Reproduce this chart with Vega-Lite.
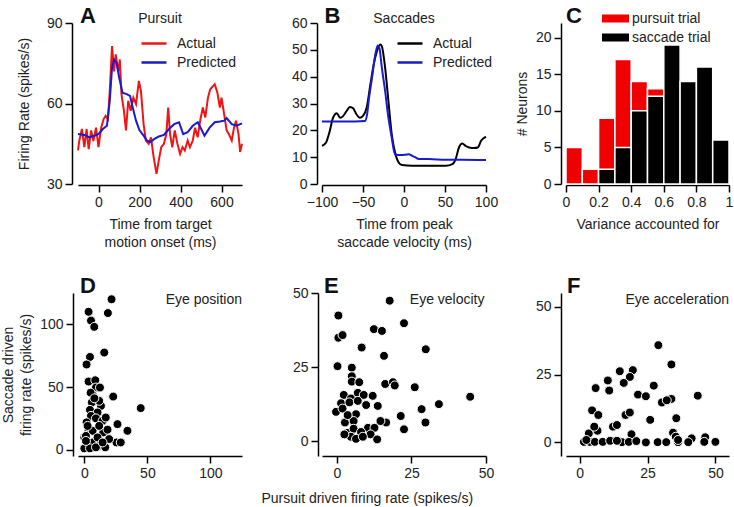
{
  "$schema": "https://vega.github.io/schema/vega-lite/v6.json",
  "padding": {"left": 1, "top": 5, "right": 2, "bottom": 2},
  "background": "white",
  "datasets": {
    "pursuit": [
      {"t": -100, "rate": 42.5, "series": "Actual"}, {"t": -94, "rate": 46, "series": "Actual"}, {"t": -81, "rate": 50.5, "series": "Actual"}, {"t": -69, "rate": 43.7, "series": "Actual"}, {"t": -58, "rate": 50.5, "series": "Actual"}, {"t": -48, "rate": 43, "series": "Actual"}, {"t": -36, "rate": 50, "series": "Actual"}, {"t": -25, "rate": 46, "series": "Actual"}, {"t": -12, "rate": 51, "series": "Actual"}, {"t": 0, "rate": 43.7, "series": "Actual"}, {"t": 13, "rate": 51, "series": "Actual"}, {"t": 25, "rate": 54.2, "series": "Actual"}, {"t": 35, "rate": 55.4, "series": "Actual"}, {"t": 46, "rate": 54.2, "series": "Actual"}, {"t": 55, "rate": 64.7, "series": "Actual"}, {"t": 66, "rate": 81.4, "series": "Actual"}, {"t": 76, "rate": 72, "series": "Actual"}, {"t": 84, "rate": 78.3, "series": "Actual"}, {"t": 96, "rate": 72, "series": "Actual"}, {"t": 104, "rate": 76.4, "series": "Actual"}, {"t": 112, "rate": 63.5, "series": "Actual"}, {"t": 124, "rate": 57.3, "series": "Actual"}, {"t": 134, "rate": 50, "series": "Actual"}, {"t": 145, "rate": 61, "series": "Actual"}, {"t": 157, "rate": 57.3, "series": "Actual"}, {"t": 170, "rate": 62.2, "series": "Actual"}, {"t": 183, "rate": 59.8, "series": "Actual"}, {"t": 197, "rate": 68.4, "series": "Actual"}, {"t": 207, "rate": 64.7, "series": "Actual"}, {"t": 220, "rate": 52.3, "series": "Actual"}, {"t": 231, "rate": 46.2, "series": "Actual"}, {"t": 245, "rate": 45, "series": "Actual"}, {"t": 256, "rate": 47.4, "series": "Actual"}, {"t": 269, "rate": 40, "series": "Actual"}, {"t": 283, "rate": 33.8, "series": "Actual"}, {"t": 294, "rate": 38.8, "series": "Actual"}, {"t": 306, "rate": 43.7, "series": "Actual"}, {"t": 319, "rate": 45, "series": "Actual"}, {"t": 331, "rate": 48.6, "series": "Actual"}, {"t": 340, "rate": 58.5, "series": "Actual"}, {"t": 349, "rate": 48.6, "series": "Actual"}, {"t": 360, "rate": 43.7, "series": "Actual"}, {"t": 372, "rate": 50, "series": "Actual"}, {"t": 385, "rate": 45, "series": "Actual"}, {"t": 398, "rate": 41.2, "series": "Actual"}, {"t": 410, "rate": 43.7, "series": "Actual"}, {"t": 421, "rate": 42.5, "series": "Actual"}, {"t": 435, "rate": 46.2, "series": "Actual"}, {"t": 446, "rate": 43.7, "series": "Actual"}, {"t": 460, "rate": 46.2, "series": "Actual"}, {"t": 471, "rate": 51, "series": "Actual"}, {"t": 484, "rate": 47.4, "series": "Actual"}, {"t": 496, "rate": 53.6, "series": "Actual"}, {"t": 509, "rate": 58.5, "series": "Actual"}, {"t": 521, "rate": 54.8, "series": "Actual"}, {"t": 534, "rate": 62.2, "series": "Actual"}, {"t": 545, "rate": 65.3, "series": "Actual"}, {"t": 559, "rate": 66.5, "series": "Actual"}, {"t": 567, "rate": 67.2, "series": "Actual"}, {"t": 580, "rate": 64, "series": "Actual"}, {"t": 592, "rate": 58.5, "series": "Actual"}, {"t": 600, "rate": 62.2, "series": "Actual"}, {"t": 613, "rate": 56, "series": "Actual"}, {"t": 625, "rate": 50, "series": "Actual"}, {"t": 636, "rate": 48.6, "series": "Actual"}, {"t": 650, "rate": 46.2, "series": "Actual"}, {"t": 661, "rate": 51, "series": "Actual"}, {"t": 671, "rate": 53.6, "series": "Actual"}, {"t": 683, "rate": 48.6, "series": "Actual"}, {"t": 691, "rate": 42, "series": "Actual"}, {"t": 700, "rate": 45, "series": "Actual"},
      {"t": -100, "rate": 48.6, "series": "Predicted"}, {"t": -69, "rate": 48.3, "series": "Predicted"}, {"t": -45, "rate": 47.4, "series": "Predicted"}, {"t": -20, "rate": 48, "series": "Predicted"}, {"t": 0, "rate": 48.6, "series": "Predicted"}, {"t": 21, "rate": 50.5, "series": "Predicted"}, {"t": 41, "rate": 51.7, "series": "Predicted"}, {"t": 55, "rate": 61, "series": "Predicted"}, {"t": 66, "rate": 73.3, "series": "Predicted"}, {"t": 76, "rate": 76.4, "series": "Predicted"}, {"t": 88, "rate": 75.2, "series": "Predicted"}, {"t": 101, "rate": 69.6, "series": "Predicted"}, {"t": 117, "rate": 64, "series": "Predicted"}, {"t": 137, "rate": 63.5, "series": "Predicted"}, {"t": 154, "rate": 62.8, "series": "Predicted"}, {"t": 167, "rate": 58.5, "series": "Predicted"}, {"t": 183, "rate": 53.6, "series": "Predicted"}, {"t": 200, "rate": 50, "series": "Predicted"}, {"t": 220, "rate": 48, "series": "Predicted"}, {"t": 236, "rate": 46.2, "series": "Predicted"}, {"t": 253, "rate": 45.6, "series": "Predicted"}, {"t": 273, "rate": 46.8, "series": "Predicted"}, {"t": 294, "rate": 47.7, "series": "Predicted"}, {"t": 319, "rate": 48.3, "series": "Predicted"}, {"t": 344, "rate": 50.5, "series": "Predicted"}, {"t": 369, "rate": 52.3, "series": "Predicted"}, {"t": 393, "rate": 53, "series": "Predicted"}, {"t": 413, "rate": 48.6, "series": "Predicted"}, {"t": 435, "rate": 49.3, "series": "Predicted"}, {"t": 460, "rate": 51.7, "series": "Predicted"}, {"t": 484, "rate": 53, "series": "Predicted"}, {"t": 501, "rate": 50.5, "series": "Predicted"}, {"t": 517, "rate": 48, "series": "Predicted"}, {"t": 542, "rate": 51, "series": "Predicted"}, {"t": 567, "rate": 53, "series": "Predicted"}, {"t": 592, "rate": 53.3, "series": "Predicted"}, {"t": 613, "rate": 53.6, "series": "Predicted"}, {"t": 625, "rate": 54.6, "series": "Predicted"}, {"t": 650, "rate": 52.3, "series": "Predicted"}, {"t": 674, "rate": 51.7, "series": "Predicted"}, {"t": 700, "rate": 52.6, "series": "Predicted"}
    ],
    "saccade": [
      {"t": -100, "rate": 14.2, "series": "Actual"}, {"t": -95, "rate": 15.5, "series": "Actual"}, {"t": -91, "rate": 19.2, "series": "Actual"}, {"t": -86.5, "rate": 24.7, "series": "Actual"}, {"t": -82, "rate": 26.4, "series": "Actual"}, {"t": -78, "rate": 24.7, "series": "Actual"}, {"t": -74, "rate": 25.4, "series": "Actual"}, {"t": -70, "rate": 27.2, "series": "Actual"}, {"t": -66, "rate": 28.7, "series": "Actual"}, {"t": -62, "rate": 28.2, "series": "Actual"}, {"t": -58, "rate": 26, "series": "Actual"}, {"t": -54, "rate": 24.7, "series": "Actual"}, {"t": -50, "rate": 25.4, "series": "Actual"}, {"t": -45.5, "rate": 28.5, "series": "Actual"}, {"t": -41, "rate": 37.1, "series": "Actual"}, {"t": -37, "rate": 44.5, "series": "Actual"}, {"t": -33, "rate": 49.5, "series": "Actual"}, {"t": -29, "rate": 52, "series": "Actual"}, {"t": -27, "rate": 51.3, "series": "Actual"}, {"t": -23, "rate": 43.3, "series": "Actual"}, {"t": -19, "rate": 30.9, "series": "Actual"}, {"t": -15, "rate": 18.6, "series": "Actual"}, {"t": -11, "rate": 11.8, "series": "Actual"}, {"t": -6.5, "rate": 8, "series": "Actual"}, {"t": -2.5, "rate": 7.05, "series": "Actual"}, {"t": 10, "rate": 6.8, "series": "Actual"}, {"t": 30, "rate": 6.8, "series": "Actual"}, {"t": 51, "rate": 6.8, "series": "Actual"}, {"t": 59, "rate": 7.4, "series": "Actual"}, {"t": 63, "rate": 9.3, "series": "Actual"}, {"t": 67, "rate": 13.6, "series": "Actual"}, {"t": 71, "rate": 15.1, "series": "Actual"}, {"t": 75, "rate": 14.2, "series": "Actual"}, {"t": 79.5, "rate": 13.6, "series": "Actual"}, {"t": 85.7, "rate": 13.4, "series": "Actual"}, {"t": 90, "rate": 13.6, "series": "Actual"}, {"t": 94, "rate": 16.1, "series": "Actual"}, {"t": 100, "rate": 17.6, "series": "Actual"},
      {"t": -100, "rate": 23.3, "series": "Predicted"}, {"t": -72, "rate": 23.3, "series": "Predicted"}, {"t": -47.5, "rate": 23.5, "series": "Predicted"}, {"t": -45, "rate": 26, "series": "Predicted"}, {"t": -42.6, "rate": 32.2, "series": "Predicted"}, {"t": -39, "rate": 39.6, "series": "Predicted"}, {"t": -35, "rate": 48.2, "series": "Predicted"}, {"t": -32, "rate": 51.6, "series": "Predicted"}, {"t": -30, "rate": 50.7, "series": "Predicted"}, {"t": -27, "rate": 43.3, "series": "Predicted"}, {"t": -23, "rate": 34.6, "series": "Predicted"}, {"t": -19, "rate": 24.7, "series": "Predicted"}, {"t": -15, "rate": 17.3, "series": "Predicted"}, {"t": -11, "rate": 11.1, "series": "Predicted"}, {"t": -6.5, "rate": 10.8, "series": "Predicted"}, {"t": 1.6, "rate": 10.9, "series": "Predicted"}, {"t": 5.7, "rate": 11.1, "series": "Predicted"}, {"t": 10, "rate": 10.5, "series": "Predicted"}, {"t": 14, "rate": 9.9, "series": "Predicted"}, {"t": 18, "rate": 9.3, "series": "Predicted"}, {"t": 30, "rate": 9.3, "series": "Predicted"}, {"t": 51, "rate": 9.0, "series": "Predicted"}, {"t": 71, "rate": 9.0, "series": "Predicted"}, {"t": 100, "rate": 8.9, "series": "Predicted"}
    ],
    "hist": [
      {"lo": 0.0, "hi": 0.1, "count": 5, "trial": "pursuit trial"}, {"lo": 0.1, "hi": 0.2, "count": 2, "trial": "pursuit trial"}, {"lo": 0.2, "hi": 0.3, "count": 9, "trial": "pursuit trial"}, {"lo": 0.3, "hi": 0.4, "count": 17, "trial": "pursuit trial"}, {"lo": 0.4, "hi": 0.5, "count": 14, "trial": "pursuit trial"}, {"lo": 0.5, "hi": 0.6, "count": 13, "trial": "pursuit trial"},
      {"lo": 0.2, "hi": 0.3, "count": 2, "trial": "saccade trial"}, {"lo": 0.3, "hi": 0.4, "count": 5, "trial": "saccade trial"}, {"lo": 0.4, "hi": 0.5, "count": 10, "trial": "saccade trial"}, {"lo": 0.5, "hi": 0.6, "count": 12, "trial": "saccade trial"}, {"lo": 0.6, "hi": 0.7, "count": 19, "trial": "saccade trial"}, {"lo": 0.7, "hi": 0.8, "count": 14, "trial": "saccade trial"}, {"lo": 0.8, "hi": 0.9, "count": 16, "trial": "saccade trial"}, {"lo": 0.9, "hi": 1.0, "count": 6, "trial": "saccade trial"}
    ],
    "position": [
      {"p": 21.6, "s": 120}, {"p": 3.4, "s": 110}, {"p": 18.7, "s": 109}, {"p": 5.3, "s": 103}, {"p": 7.9, "s": 98}, {"p": 15.8, "s": 77.5}, {"p": 4.5, "s": 74}, {"p": 1.8, "s": 68}, {"p": 3.4, "s": 54.4}, {"p": 8.7, "s": 55.4}, {"p": 9.2, "s": 49.6}, {"p": 12.4, "s": 49.6}, {"p": 22.9, "s": 42.4}, {"p": 44.7, "s": 33.2}, {"p": 6, "s": 37.7}, {"p": 4.5, "s": 31.8}, {"p": 13.2, "s": 35}, {"p": 10.5, "s": 29.7}, {"p": 5.3, "s": 27}, {"p": 9.2, "s": 25}, {"p": 1.8, "s": 21.8}, {"p": 14.5, "s": 23}, {"p": 3.4, "s": 15.1}, {"p": 6.6, "s": 15.1}, {"p": 15, "s": 13.8}, {"p": 18.4, "s": 16}, {"p": 26.3, "s": 20.4}, {"p": 34.2, "s": 15.1}, {"p": 0, "s": 9.8}, {"p": 2.6, "s": 4.5}, {"p": 6.6, "s": 5.8}, {"p": 11.8, "s": 3.2}, {"p": 16.6, "s": 1.9}, {"p": 25.5, "s": 5.8}, {"p": 28.9, "s": 5.8}, {"p": 0, "s": 1.1}, {"p": 4.5, "s": 1.1}, {"p": 9.2, "s": 1.9}, {"p": 2.6, "s": 19}, {"p": 11.8, "s": 19}, {"p": 6.6, "s": 44}, {"p": 11.8, "s": 39}, {"p": 17, "s": 25.7}, {"p": 1.3, "s": 11}, {"p": 10.5, "s": 9.8}, {"p": 19.7, "s": 8.5}, {"p": 1.3, "s": 7}, {"p": 14.5, "s": 5.8}, {"p": 5, "s": 45.5}, {"p": 8, "s": 41}
    ],
    "velocity": [
      {"p": 17.7, "s": 47.4}, {"p": 0.5, "s": 42.4}, {"p": 22.5, "s": 39.8}, {"p": 12.4, "s": 37.8}, {"p": 15.1, "s": 37.2}, {"p": 0.5, "s": 34.9}, {"p": 1.9, "s": 35.8}, {"p": 8.3, "s": 31.6}, {"p": 29.8, "s": 31}, {"p": 15.8, "s": 28.8}, {"p": 0.2, "s": 25.3}, {"p": 5, "s": 24.8}, {"p": 5, "s": 21.9}, {"p": 5, "s": 20.1}, {"p": 7.5, "s": 19.9}, {"p": 16.2, "s": 19.3}, {"p": 18.8, "s": 19.9}, {"p": 19.4, "s": 18.8}, {"p": 26.1, "s": 18.2}, {"p": 44.7, "s": 15}, {"p": 2.3, "s": 15.6}, {"p": 7, "s": 16.3}, {"p": 9, "s": 15.6}, {"p": 12, "s": 15.3}, {"p": 4.7, "s": 14.4}, {"p": 9.8, "s": 12.2}, {"p": 13.7, "s": 11.9}, {"p": 1.4, "s": 12.8}, {"p": 4.2, "s": 13.1}, {"p": 7, "s": 13.6}, {"p": -0.3, "s": 9.9}, {"p": 1.9, "s": 11}, {"p": 6.4, "s": 9.1}, {"p": 34.2, "s": 12.5}, {"p": 28.4, "s": 10.8}, {"p": 21.4, "s": 8.5}, {"p": 16.5, "s": 6.3}, {"p": 14.6, "s": 6.8}, {"p": 29.7, "s": 6.3}, {"p": 22.5, "s": 4}, {"p": 2.7, "s": 6.3}, {"p": 5.6, "s": 6.8}, {"p": 3.6, "s": 8.8}, {"p": 3.6, "s": 2.8}, {"p": 5.6, "s": 4.2}, {"p": 10.4, "s": 4.5}, {"p": 12.6, "s": 4.5}, {"p": 8.1, "s": 3.1}, {"p": 11.3, "s": 2.3}, {"p": 4.7, "s": 1.5}, {"p": 6.4, "s": 0.8}, {"p": 13.5, "s": 0.6}, {"p": 8.7, "s": 1.5}, {"p": 2.5, "s": 2.3}
    ],
    "acceleration": [
      {"p": 29, "s": 35.8}, {"p": 33.8, "s": 28.7}, {"p": 5.9, "s": 20}, {"p": 10.4, "s": 22.8}, {"p": 10.9, "s": 19.1}, {"p": 14.8, "s": 26.2}, {"p": 19.6, "s": 26.6}, {"p": 18.5, "s": 24.1}, {"p": 16.25, "s": 21.9}, {"p": 27.3, "s": 20.9}, {"p": 21.5, "s": 17.6}, {"p": 24.4, "s": 17}, {"p": 43.5, "s": 17.2}, {"p": 30.3, "s": 14.7}, {"p": 33.8, "s": 16}, {"p": 32.1, "s": 15.5}, {"p": 4.6, "s": 11.8}, {"p": 6.9, "s": 10.1}, {"p": 26, "s": 8.3}, {"p": 35.6, "s": 8.9}, {"p": 16.9, "s": 10.1}, {"p": 18.5, "s": 11}, {"p": 12.3, "s": 5.8}, {"p": 13.75, "s": 6.4}, {"p": 3.4, "s": 3.3}, {"p": 6.6, "s": 4.3}, {"p": 5.4, "s": 5.8}, {"p": 19.1, "s": 3}, {"p": 34.4, "s": 3.6}, {"p": 35.4, "s": 2.1}, {"p": 41.25, "s": 1.5}, {"p": 46.25, "s": 1.9}, {"p": 1.6, "s": 0.2}, {"p": 3.75, "s": 0.2}, {"p": 5.6, "s": 0.2}, {"p": 8.5, "s": 0.2}, {"p": 11.25, "s": 0.6}, {"p": 15.6, "s": 0.1}, {"p": 18.1, "s": 0.2}, {"p": 20.9, "s": 0.5}, {"p": 24.4, "s": 0}, {"p": 28.75, "s": 0.1}, {"p": 31.9, "s": 0.1}, {"p": 36.25, "s": 0.1}, {"p": 40, "s": 0.1}, {"p": 45.9, "s": 0.2}, {"p": 50, "s": 0.2}, {"p": 13.75, "s": 0.6}, {"p": 2.5, "s": 0.9}, {"p": 36.25, "s": 0.9}
    ]
  },
  "title": {"text": "Pursuit driven firing rate (spikes/s)", "orient": "bottom", "anchor": "middle", "fontSize": 14, "fontWeight": "normal", "color": "#222", "offset": 12},
  "resolve": {"scale": {"color": "independent"}, "legend": {"color": "independent"}},
  "bounds": "flush",
  "columns": 3,
  "spacing": {"row": 109, "column": 80},
  "concat": [
    {
      "width": 164, "height": 161,
      "layer": [
        {
          "data": {"name": "pursuit"},
          "mark": {"type": "line", "strokeWidth": 2},
          "encoding": {
            "x": {"field": "t", "type": "quantitative", "scale": {"domain": [-100, 700], "nice": false, "zero": false}, "axis": {"values": [0, 200, 400, 600], "tickCount": 20, "title": ["Time from target", "motion onset (ms)"], "offset": 1}},
            "y": {"field": "rate", "type": "quantitative", "scale": {"domain": [30, 90], "nice": false, "zero": false}, "axis": {"values": [30, 60, 90], "tickCount": 20, "title": "Firing Rate (spikes/s)", "offset": 6, "titlePadding": 15}},
            "color": {"field": "series", "type": "nominal", "scale": {"domain": ["Actual", "Predicted"], "range": ["#f01414", "#1a1ad0"]}, "legend": {"orient": "none", "legendX": 62, "legendY": 13, "title": null}}
          }
        },
        {"data": {"values": [{"label": "A"}]}, "mark": {"type": "text", "fontSize": 22, "fontWeight": "bold", "align": "left", "baseline": "alphabetic"}, "encoding": {"text": {"field": "label"}, "x": {"datum": -90}, "y": {"datum": 90}}},
        {"data": {"values": [{"label": "Pursuit"}]}, "mark": {"type": "text", "fontSize": 14, "align": "center", "baseline": "alphabetic", "color": "#222"}, "encoding": {"text": {"field": "label"}, "x": {"datum": 300}, "y": {"datum": 90}}}
      ]
    },
    {
      "width": 164, "height": 161,
      "layer": [
        {
          "data": {"name": "saccade"},
          "mark": {"type": "line", "strokeWidth": 2, "interpolate": "monotone"},
          "encoding": {
            "x": {"field": "t", "type": "quantitative", "scale": {"domain": [-100, 100], "nice": false, "zero": false}, "axis": {"values": [-100, -50, 0, 50, 100], "tickCount": 20, "title": ["Time from peak", "saccade velocity (ms)"], "offset": 1}},
            "y": {"field": "rate", "type": "quantitative", "scale": {"domain": [0, 60], "nice": false}, "axis": {"values": [0, 10, 20, 30, 40, 50, 60], "tickCount": 20, "title": null, "offset": 5}},
            "color": {"field": "series", "type": "nominal", "scale": {"domain": ["Actual", "Predicted"], "range": ["#000000", "#1a1ad0"]}, "legend": {"orient": "none", "legendX": 74, "legendY": 13, "title": null}}
          }
        },
        {"data": {"values": [{"label": "B"}]}, "mark": {"type": "text", "fontSize": 22, "fontWeight": "bold", "align": "left", "baseline": "alphabetic"}, "encoding": {"text": {"field": "label"}, "x": {"datum": -97}, "y": {"datum": 60}}},
        {"data": {"values": [{"label": "Saccades"}]}, "mark": {"type": "text", "fontSize": 14, "align": "center", "baseline": "alphabetic", "color": "#222"}, "encoding": {"text": {"field": "label"}, "x": {"datum": 0}, "y": {"datum": 60}}}
      ]
    },
    {
      "width": 163, "height": 161,
      "layer": [
        {
          "data": {"name": "hist"},
          "mark": {"type": "rect", "stroke": "white", "strokeWidth": 1.5},
          "encoding": {
            "x": {"field": "lo", "type": "quantitative", "scale": {"domain": [0, 1], "nice": false}, "axis": {"values": [0, 0.2, 0.4, 0.6, 0.8, 1], "tickCount": 20, "format": "~g", "title": "Variance accounted for", "offset": 1}},
            "x2": {"field": "hi"},
            "y": {"field": "count", "type": "quantitative", "scale": {"domain": [0, 22], "nice": false}, "axis": {"values": [0, 5, 10, 15, 20], "tickCount": 20, "title": "# Neurons", "offset": 5, "titlePadding": 6}},
            "y2": {"datum": 0},
            "color": {"field": "trial", "type": "nominal", "scale": {"domain": ["pursuit trial", "saccade trial"], "range": ["#f00000", "#000000"]}, "legend": {"orient": "none", "legendX": 36, "legendY": -12, "title": null, "symbolType": "M-1,-0.3H1V0.3H-1Z", "symbolSize": 729, "symbolStrokeWidth": 0, "labelOffset": 3}}
          }
        },
        {"data": {"values": [{"label": "C"}]}, "mark": {"type": "text", "fontSize": 22, "fontWeight": "bold", "align": "left", "baseline": "alphabetic"}, "encoding": {"text": {"field": "label"}, "x": {"datum": 0}, "y": {"datum": 22}}}
      ]
    },
    {
      "width": 164, "height": 163,
      "layer": [
        {
          "data": {"name": "position"},
          "mark": {"type": "point", "filled": true, "size": 80, "color": "black", "stroke": "white", "strokeWidth": 1, "opacity": 1},
          "encoding": {
            "x": {"field": "p", "type": "quantitative", "scale": {"domain": [-5, 125], "nice": false, "zero": false}, "axis": {"values": [0, 50, 100], "tickCount": 20, "title": null, "offset": 0}},
            "y": {"field": "s", "type": "quantitative", "scale": {"domain": [-5, 125], "nice": false, "zero": false}, "axis": {"values": [0, 50, 100], "tickCount": 20, "title": ["Saccade driven", "firing rate (spikes/s)"], "offset": 5, "titlePadding": 6}}
          }
        },
        {"data": {"values": [{"label": "D"}]}, "mark": {"type": "text", "fontSize": 22, "fontWeight": "bold", "align": "left", "baseline": "alphabetic"}, "encoding": {"text": {"field": "label"}, "x": {"datum": -3.4}, "y": {"datum": 125}}},
        {"data": {"values": [{"label": "Eye position"}]}, "mark": {"type": "text", "fontSize": 14, "align": "right", "baseline": "alphabetic", "dy": 11, "color": "#222"}, "encoding": {"text": {"field": "label"}, "x": {"datum": 125}, "y": {"datum": 125}}}
      ]
    },
    {
      "width": 164, "height": 163,
      "layer": [
        {
          "data": {"name": "velocity"},
          "mark": {"type": "point", "filled": true, "size": 80, "color": "black", "stroke": "white", "strokeWidth": 1, "opacity": 1},
          "encoding": {
            "x": {"field": "p", "type": "quantitative", "scale": {"domain": [-5, 50], "nice": false, "zero": false}, "axis": {"values": [0, 25, 50], "tickCount": 20, "title": null, "offset": 0}},
            "y": {"field": "s", "type": "quantitative", "scale": {"domain": [-5, 50], "nice": false, "zero": false}, "axis": {"values": [0, 25, 50], "tickCount": 20, "title": null, "offset": 4}}
          }
        },
        {"data": {"values": [{"label": "E"}]}, "mark": {"type": "text", "fontSize": 22, "fontWeight": "bold", "align": "left", "baseline": "alphabetic"}, "encoding": {"text": {"field": "label"}, "x": {"datum": -4.3}, "y": {"datum": 50}}},
        {"data": {"values": [{"label": "Eye velocity"}]}, "mark": {"type": "text", "fontSize": 14, "align": "right", "baseline": "alphabetic", "dy": 11, "color": "#222"}, "encoding": {"text": {"field": "label"}, "x": {"datum": 49.5}, "y": {"datum": 50}}}
      ]
    },
    {
      "width": 163, "height": 163,
      "layer": [
        {
          "data": {"name": "acceleration"},
          "mark": {"type": "point", "filled": true, "size": 80, "color": "black", "stroke": "white", "strokeWidth": 1, "opacity": 1},
          "encoding": {
            "x": {"field": "p", "type": "quantitative", "scale": {"domain": [-5, 55], "nice": false, "zero": false}, "axis": {"values": [0, 25, 50], "tickCount": 20, "title": null, "offset": 0}},
            "y": {"field": "s", "type": "quantitative", "scale": {"domain": [-5, 55], "nice": false, "zero": false}, "axis": {"values": [0, 25, 50], "tickCount": 20, "title": null, "offset": 5}}
          }
        },
        {"data": {"values": [{"label": "F"}]}, "mark": {"type": "text", "fontSize": 22, "fontWeight": "bold", "align": "left", "baseline": "alphabetic"}, "encoding": {"text": {"field": "label"}, "x": {"datum": -4.6}, "y": {"datum": 55}}},
        {"data": {"values": [{"label": "Eye acceleration"}]}, "mark": {"type": "text", "fontSize": 14, "align": "right", "baseline": "alphabetic", "dy": 11, "color": "#222"}, "encoding": {"text": {"field": "label"}, "x": {"datum": 55}, "y": {"datum": 55}}}
      ]
    }
  ],
  "config": {
    "font": "Liberation Sans",
    "view": {"stroke": null},
    "text": {"font": "Liberation Sans", "color": "#111"},
    "axis": {"grid": false, "domainColor": "#000", "domainWidth": 1.5, "tickColor": "#000", "tickWidth": 1.5, "tickSize": 7, "labelFontSize": 14, "labelColor": "#222", "labelPadding": 3, "labelOverlap": false, "labelFlush": false, "titleFontSize": 14, "titleFontWeight": "normal", "titleColor": "#222", "titleLineHeight": 18, "titlePadding": 8, "labelFont": "Liberation Sans", "titleFont": "Liberation Sans"},
    "legend": {"labelFontSize": 14, "labelColor": "#222", "labelFont": "Liberation Sans", "symbolType": "stroke", "symbolSize": 625, "symbolStrokeWidth": 2.5, "labelOffset": 9, "rowPadding": 4, "clipHeight": 15, "padding": 0},
    "title": {"font": "Liberation Sans"}
  }
}
